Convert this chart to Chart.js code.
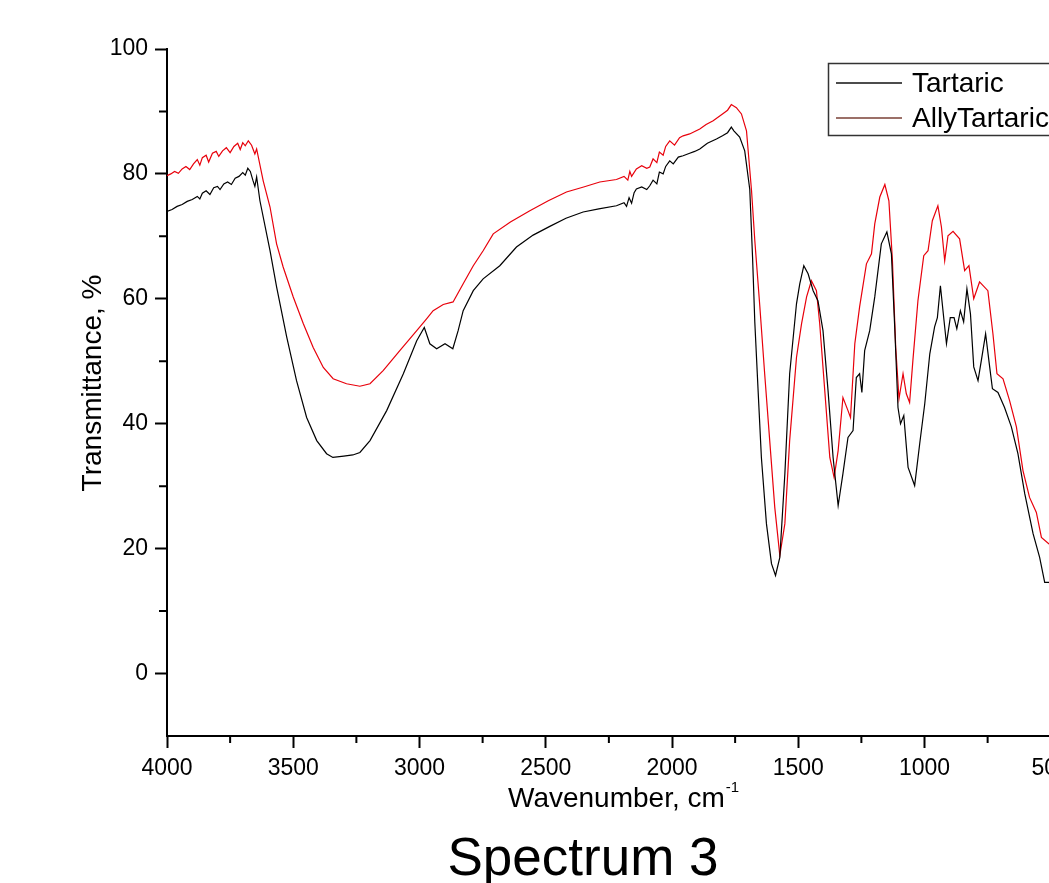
<!DOCTYPE html>
<html>
<head>
<meta charset="utf-8">
<script src="https://cdn.jsdelivr.net/npm/chart.js@4.4.1/dist/chart.umd.min.js"></script>
<style>
  html, body { margin: 0; padding: 0; background: #fff; overflow: hidden; }
  #wrap { position: absolute; left: 0; top: 0; width: 1150px; height: 883px; }
  #caption { position: absolute; left: 0; width: 1166px; top: 826px; text-align: center;
    font: 53px "Liberation Sans", Arial, sans-serif; color: #000; }
</style>
</head>
<body>
<div id="wrap"><canvas id="c" width="1150" height="883"></canvas></div>
<div id="caption">Spectrum 3</div>
<script>
/* FTIR overlay: Tartaric vs AllyTartaric, wavenumber axis reversed (4000 → 400) */
const seriesNames = ["Tartaric", "AllyTartaric"];

const tartaricWn = [4000, 3980, 3960, 3940, 3920, 3900, 3880, 3870, 3860, 3845, 3830, 3815, 3800, 3790, 3775, 3760, 3745, 3730, 3715, 3700, 3690, 3680, 3670, 3660, 3652, 3645, 3632, 3592, 3566, 3526, 3487, 3447, 3407, 3368, 3343, 3300, 3264, 3236, 3196, 3130, 3064, 3011, 2981, 2959, 2932, 2899, 2868, 2847, 2827, 2787, 2748, 2682, 2616, 2550, 2484, 2420, 2352, 2290, 2220, 2190, 2180, 2170, 2160, 2150, 2141, 2120, 2100, 2088, 2075, 2060, 2050, 2035, 2025, 2009, 1995, 1975, 1956, 1930, 1910, 1890, 1860, 1824, 1800, 1780, 1765, 1755, 1732, 1712, 1692, 1681, 1672, 1659, 1646, 1626, 1606, 1590, 1573, 1553, 1534, 1507, 1494, 1478, 1461, 1441, 1422, 1402, 1382, 1362, 1342, 1323, 1303, 1283, 1270, 1257, 1248, 1237, 1217, 1197, 1171, 1149, 1131, 1118, 1105, 1095, 1082, 1065, 1039, 1019, 999, 979, 960, 949, 937, 924, 913, 898, 883, 872, 858, 845, 832, 818, 805, 788, 775, 758, 745, 731, 709, 683, 656, 630, 603, 570, 544, 524, 508, 480];
const tartaricT = [74.0, 74.3, 74.8, 75.1, 75.6, 75.9, 76.4, 76.0, 76.9, 77.3, 76.7, 77.8, 78.0, 77.5, 78.4, 78.7, 78.3, 79.3, 79.6, 80.2, 79.8, 80.9, 80.4, 79.0, 78.0, 79.5, 75.7, 67.7, 61.9, 53.9, 46.9, 41.0, 37.3, 35.2, 34.6, 34.8, 35.0, 35.4, 37.3, 42.1, 48.0, 53.3, 55.4, 52.8, 52.0, 52.8, 52.0, 54.9, 58.1, 61.3, 63.2, 65.3, 68.3, 70.2, 71.6, 72.9, 73.9, 74.4, 74.9, 75.4, 74.8, 76.2, 75.3, 77.0, 77.6, 77.9, 77.5, 78.1, 79.0, 78.4, 80.3, 80.0, 81.2, 82.1, 81.6, 82.7, 82.9, 83.3, 83.6, 84.0, 84.9, 85.6, 86.1, 86.6, 87.5, 86.9, 85.9, 83.7, 77.5, 66.7, 56.2, 45.3, 34.6, 24.0, 17.6, 15.7, 18.6, 32.0, 48.0, 59.2, 62.4, 65.3, 64.0, 61.3, 59.7, 54.9, 45.3, 34.6, 26.9, 32.0, 37.8, 38.9, 47.4, 48.0, 45.0, 51.7, 54.9, 60.3, 68.8, 70.7, 67.2, 55.5, 42.6, 40.0, 41.3, 33.0, 30.1, 36.8, 43.2, 51.2, 55.5, 57.0, 62.1, 57.0, 52.8, 57.0, 57.0, 55.2, 58.1, 56.3, 61.6, 57.6, 49.1, 46.9, 50.1, 54.4, 50.1, 45.6, 45.0, 42.6, 39.5, 35.2, 28.8, 22.4, 18.6, 14.6, 14.6, 14.2];

const allyWn = [4000, 3985, 3970, 3955, 3940, 3925, 3910, 3895, 3880, 3870, 3860, 3845, 3835, 3820, 3805, 3795, 3780, 3765, 3750, 3735, 3720, 3710, 3700, 3690, 3678, 3665, 3652, 3645, 3619, 3592, 3566, 3540, 3500, 3460, 3421, 3381, 3342, 3289, 3236, 3196, 3144, 3078, 3011, 2972, 2946, 2906, 2867, 2827, 2787, 2748, 2708, 2640, 2563, 2490, 2418, 2350, 2286, 2220, 2190, 2175, 2167, 2160, 2141, 2120, 2100, 2088, 2075, 2060, 2050, 2035, 2025, 2009, 1990, 1970, 1956, 1930, 1910, 1890, 1865, 1837, 1800, 1780, 1765, 1745, 1725, 1705, 1685, 1672, 1652, 1633, 1613, 1593, 1573, 1553, 1534, 1507, 1487, 1467, 1448, 1428, 1415, 1395, 1375, 1358, 1342, 1323, 1303, 1293, 1276, 1257, 1230, 1210, 1197, 1177, 1157, 1141, 1127, 1114, 1101, 1085, 1072, 1059, 1046, 1026, 1003, 986, 969, 947, 933, 920, 907, 887, 861, 841, 824, 805, 782, 749, 729, 713, 689, 663, 636, 610, 584, 557, 537, 508, 480];
const allyT = [79.7, 80.0, 80.4, 80.1, 80.8, 81.2, 80.7, 81.6, 82.3, 81.4, 82.6, 83.0, 81.9, 83.3, 83.6, 82.8, 83.7, 84.2, 83.4, 84.4, 84.9, 83.9, 85.0, 84.5, 85.3, 84.6, 83.2, 84.0, 78.9, 74.7, 68.8, 65.1, 60.3, 56.0, 52.2, 49.0, 47.2, 46.4, 46.0, 46.4, 48.5, 51.7, 54.9, 56.8, 58.1, 59.1, 59.5, 62.4, 65.3, 67.7, 70.4, 72.3, 74.1, 75.7, 77.1, 77.9, 78.7, 79.1, 79.6, 79.0, 80.4, 79.6, 80.8, 81.3, 80.9, 81.1, 82.4, 81.8, 83.5, 83.0, 84.4, 85.3, 84.6, 85.8, 86.1, 86.4, 86.8, 87.2, 87.9, 88.5, 89.6, 90.2, 91.1, 90.6, 89.6, 86.9, 77.3, 69.3, 58.7, 48.0, 37.3, 26.6, 18.9, 24.0, 37.3, 50.6, 56.0, 60.3, 62.9, 61.3, 56.0, 45.3, 34.6, 31.4, 35.7, 44.2, 42.1, 41.0, 52.8, 58.7, 65.6, 67.2, 72.0, 76.3, 78.3, 75.7, 66.1, 52.2, 44.0, 48.0, 44.8, 43.4, 50.1, 59.7, 66.9, 67.7, 72.5, 74.9, 71.5, 66.1, 70.1, 70.8, 69.6, 64.5, 65.3, 60.0, 62.7, 61.3, 54.4, 48.0, 47.2, 43.7, 39.5, 32.5, 28.2, 25.8, 21.8, 20.8, 20.2];

const xMajorTicks = [4000, 3500, 3000, 2500, 2000, 1500, 1000, 500];
const xMinorTicks = [3750, 3250, 2750, 2250, 1750, 1250, 750];
const yMajorTicks = [0, 20, 40, 60, 80, 100];
const yMinorTicks = [10, 30, 50, 70, 90];

const FONT = '"Liberation Sans", Arial, sans-serif';
const pts = (xs, ys) => xs.map((x, i) => ({ x, y: ys[i] }));

// minor ticks, axis titles and the boxed legend
const extras = {
  id: "extras",
  afterDraw(chart) {
    const { ctx, scales: { x, y }, chartArea: a } = chart;
    ctx.save();
    ctx.strokeStyle = "#000"; ctx.lineWidth = 2;
    ctx.beginPath();
    xMinorTicks.forEach(v => { const px = x.getPixelForValue(v); ctx.moveTo(px, a.bottom); ctx.lineTo(px, a.bottom + 7); });
    yMinorTicks.forEach(v => { const py = y.getPixelForValue(v); ctx.moveTo(a.left, py); ctx.lineTo(a.left - 8, py); });
    ctx.stroke();

    ctx.fillStyle = "#000";
    ctx.font = "28px " + FONT;
    ctx.textBaseline = "alphabetic";
    ctx.textAlign = "left";
    const main = "Wavenumber, cm";
    const w = ctx.measureText(main).width;
    const x0 = 508;
    ctx.fillText(main, x0, 807);
    ctx.font = "15px " + FONT;
    ctx.fillText("-1", x0 + w + 1, 792);

    ctx.save();
    ctx.translate(101, 383);
    ctx.rotate(-Math.PI / 2);
    ctx.font = "28px " + FONT;
    ctx.textAlign = "center";
    ctx.fillText("Transmittance, %", 0, 0);
    ctx.restore();

    // legend
    ctx.lineWidth = 1.5; ctx.strokeStyle = "#333";
    ctx.strokeRect(828.5, 63.5, 250, 72);
    const rows = [{ y: 83, c: "#111" }, { y: 118, c: "#7a4036" }];
    ctx.font = "28px " + FONT; ctx.textBaseline = "middle";
    rows.forEach((r, i) => {
      ctx.strokeStyle = r.c; ctx.lineWidth = 1.3;
      ctx.beginPath(); ctx.moveTo(836, r.y); ctx.lineTo(902, r.y); ctx.stroke();
      ctx.fillStyle = "#000";
      ctx.fillText(seriesNames[i], 912, r.y + 1);
    });
    ctx.restore();
  },
};

new Chart(document.getElementById("c"), {
  type: "line",
  data: {
    datasets: [
      { label: seriesNames[0], data: pts(tartaricWn, tartaricT), borderColor: "#000", borderWidth: 1.2, pointRadius: 0, tension: 0 },
      { label: seriesNames[1], data: pts(allyWn, allyT), borderColor: "#e8000b", borderWidth: 1.2, pointRadius: 0, tension: 0 },
    ],
  },
  options: {
    responsive: false, animation: false, devicePixelRatio: 1,
    layout: { padding: { left: 0, top: 49, right: 74, bottom: 0 } },
    plugins: { legend: { display: false }, tooltip: { enabled: false } },
    scales: {
      x: {
        type: "linear", reverse: true, min: 400, max: 4000,
        afterBuildTicks: s => { s.ticks = xMajorTicks.map(v => ({ value: v })); },
        afterFit: s => { s.height = 147; },
        border: { display: true, color: "#000", width: 2 },
        grid: { drawOnChartArea: false, drawTicks: true, tickLength: 12, color: "#000", tickWidth: 2 },
        ticks: { font: { size: 23, family: FONT }, color: "#000", padding: 7, maxRotation: 0, autoSkip: false, callback: v => String(v) },
      },
      y: {
        min: -10, max: 100,
        afterBuildTicks: s => { s.ticks = yMajorTicks.map(v => ({ value: v })); },
        afterFit: s => { s.width = 167; },
        border: { display: true, color: "#000", width: 2 },
        grid: { drawOnChartArea: false, drawTicks: true, tickLength: 12, color: "#000", tickWidth: 2 },
        ticks: { font: { size: 23, family: FONT }, color: "#000", padding: 7, callback: v => String(v) },
      },
    },
  },
  plugins: [extras],
});
</script>
</body>
</html>
